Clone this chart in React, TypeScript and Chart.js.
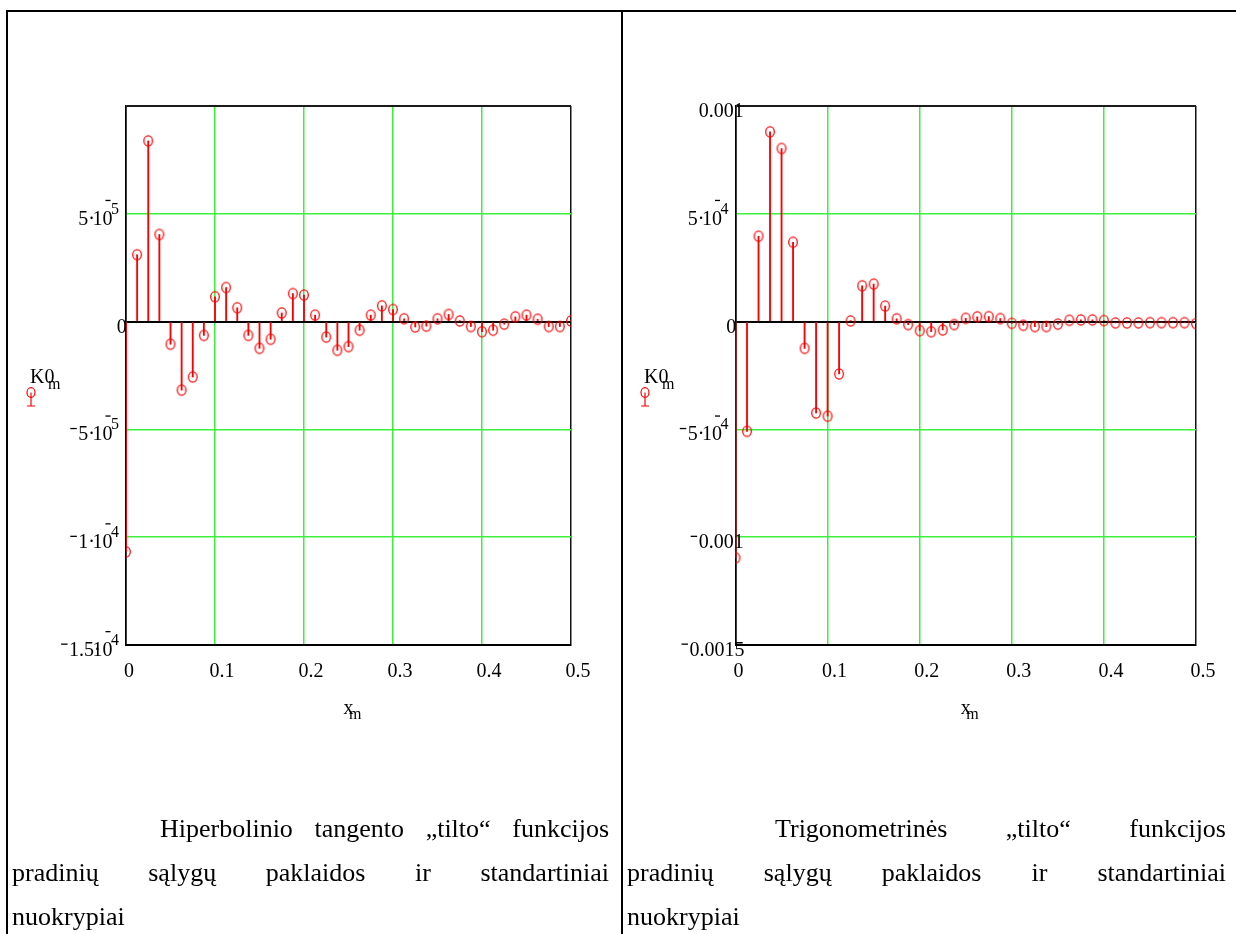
import React, { useEffect, useRef } from "react";
import { Chart, registerables } from "chart.js";

Chart.register(...registerables);

const SERIF = "'Liberation Serif', 'Times New Roman', Times, serif";
const RED = "#ff0000";
const GRID_GREEN = "#3cf03c";

// sample points x_m
const xm = [
  0, 0.0125, 0.025, 0.0375, 0.05, 0.0625, 0.075, 0.0875, 0.1, 0.1125, 0.125,
  0.1375, 0.15, 0.1625, 0.175, 0.1875, 0.2, 0.2125, 0.225, 0.2375, 0.25,
  0.2625, 0.275, 0.2875, 0.3, 0.3125, 0.325, 0.3375, 0.35, 0.3625, 0.375,
  0.3875, 0.4, 0.4125, 0.425, 0.4375, 0.45, 0.4625, 0.475, 0.4875, 0.5,
];

// K0_m, hyperbolic tangent bridge
const tanhK0 = [
  -1.068e-4, 3.1e-5, 8.38e-5, 4.04e-5, -1.05e-5, -3.18e-5, -2.57e-5, -6.4e-6,
  1.15e-5, 1.58e-5, 6.4e-6, -6.4e-6, -1.24e-5, -8.2e-6, 4.0e-6, 1.3e-5,
  1.23e-5, 3.0e-6, -7.2e-6, -1.33e-5, -1.16e-5, -4.0e-6, 3.0e-6, 7.3e-6,
  5.6e-6, 1.3e-6, -2.5e-6, -2.1e-6, 1.3e-6, 3.3e-6, 3e-7, -2.3e-6, -4.7e-6,
  -4.0e-6, -1.2e-6, 2.2e-6, 3.0e-6, 1.1e-6, -2.3e-6, -2.3e-6, 3e-7,
];

// K0_m, trigonometric bridge
const trigK0 = [
  -1.096e-3, -5.09e-4, 3.96e-4, 8.8e-4, 8.03e-4, 3.68e-4, -1.24e-4, -4.24e-4,
  -4.39e-4, -2.43e-4, 3e-6, 1.66e-4, 1.74e-4, 7.2e-5, 1.3e-5, -1.4e-5, -4.2e-5,
  -4.7e-5, -3.9e-5, -1.4e-5, 1.5e-5, 2.2e-5, 2.3e-5, 1.4e-5, -8e-6, -1.7e-5,
  -2.3e-5, -2.3e-5, -1.2e-5, 6e-6, 8e-6, 8e-6, 5e-6, -6e-6, -6e-6, -6e-6,
  -5e-6, -5e-6, -5e-6, -5e-6, -9e-6,
];

const xGrid = [0, 0.1, 0.2, 0.3, 0.4, 0.5];
const xTickLabels = ["0", "0.1", "0.2", "0.3", "0.4", "0.5"];

const tanhYGrid = [-1.5e-4, -1e-4, -5e-5, 0, 5e-5, 1e-4];
const tanhYTicks = [5e-5, 0, -5e-5, -1e-4, -1.5e-4];
const tanhYLabels = ["5·10^-5", "0", "-5·10^-5", "-1·10^-4", "-1.5·10^-4"];

const trigYGrid = [-0.0015, -0.001, -5e-4, 0, 5e-4, 0.001];
const trigYTicks = [0.001, 5e-4, 0, -5e-4, -0.001, -0.0015];
const trigYLabels = ["0.001", "5·10^-4", "0", "-5·10^-4", "-0.001", "-0.0015"];

const tanhCaption = [
  "Hiperbolinio tangento „tilto“ funkcijos",
  "pradinių sąlygų paklaidos ir standartiniai",
  "nuokrypiai",
];
const trigCaption = [
  "Trigonometrinės „tilto“ funkcijos",
  "pradinių sąlygų paklaidos ir standartiniai",
  "nuokrypiai",
];

// Mathcad-like width estimate used for placing axis numbers
function estWidth(text: string): number {
  let w = 0;
  for (const ch of text) {
    if (ch >= "0" && ch <= "9") w += 9.2;
    else if (ch === "-") w += 8;
    else if (ch === "·") w += 5;
  }
  return w;
}

function drawPlain(ctx: CanvasRenderingContext2D, text: string, x: number, baseline: number) {
  let cx = x;
  for (const ch of text) {
    if (ch === "-") {
      ctx.fillRect(cx, baseline - 12.5, 6.5, 1.3);
      cx += 8;
    } else {
      ctx.fillText(ch, cx, baseline);
      cx += ctx.measureText(ch).width;
    }
  }
}

function drawYLabel(ctx: CanvasRenderingContext2D, label: string, axisX: number, baseline: number) {
  ctx.font = `20px ${SERIF}`;
  const caret = label.indexOf("^");
  if (caret < 0) {
    drawPlain(ctx, label, axisX - estWidth(label), baseline);
    return;
  }
  const exp = label.slice(caret + 1);
  const base = label.slice(0, caret);
  const mant = base.slice(0, base.length - 2);
  ctx.font = `16px ${SERIF}`;
  const digits = exp.replace("-", "");
  const supW = ctx.measureText(digits).width;
  const supX = axisX - 7 - supW;
  ctx.fillText(digits, supX, baseline - 11);
  if (exp.startsWith("-")) ctx.fillRect(supX - 5.5, baseline - 25, 5, 1.3);
  ctx.font = `20px ${SERIF}`;
  const tenX = supX + 1.5 - ctx.measureText("10").width;
  ctx.fillText("10", tenX, baseline);
  drawPlain(ctx, mant, tenX - estWidth(mant), baseline);
}

const mathcadText = {
  id: "mathcadText",
  afterDraw(chart: any, _args: any, opts: any) {
    const { ctx, chartArea } = chart;
    const xs = chart.scales.x;
    const ys = chart.scales.y;
    ctx.save();
    ctx.fillStyle = "#000";
    ctx.textAlign = "left";
    ctx.textBaseline = "alphabetic";

    opts.yTicks.forEach((v: number, i: number) => {
      drawYLabel(ctx, opts.yLabels[i], chartArea.left, ys.getPixelForValue(v) + 11);
    });

    ctx.font = `20px ${SERIF}`;
    xGrid.forEach((v, i) => {
      const label = xTickLabels[i];
      const left = xs.getPixelForValue(v) - (2 + 1.75 * (label.length - 1));
      ctx.fillText(label, left, chartArea.bottom + 32);
    });

    // x axis title
    const cx = (chartArea.left + chartArea.right) / 2;
    ctx.font = `20px ${SERIF}`;
    ctx.fillText("x", cx - 5, chartArea.bottom + 69);
    ctx.font = `16px ${SERIF}`;
    ctx.fillText("m", cx + 0.5, chartArea.bottom + 74);

    // y axis title with trace symbol
    const lx = opts.panelLeft + 23;
    const ty = chartArea.top + 277;
    ctx.font = `20px ${SERIF}`;
    ctx.fillText("K0", lx, ty);
    ctx.font = `16px ${SERIF}`;
    ctx.fillText("m", lx + 18, ty + 6);

    const mx = lx + 1;
    const my = ty + 9.5;
    ctx.strokeStyle = RED;
    ctx.lineWidth = 1.2;
    ctx.beginPath();
    ctx.ellipse(mx, my, 4, 4.8, 0, 0, Math.PI * 2);
    ctx.stroke();
    ctx.beginPath();
    ctx.moveTo(mx, my);
    ctx.lineTo(mx, my + 13.5);
    ctx.moveTo(mx - 4, my + 13.5);
    ctx.lineTo(mx + 4, my + 13.5);
    ctx.stroke();
    ctx.restore();
  },
};

function makeMarker(): HTMLCanvasElement {
  const c = document.createElement("canvas");
  c.width = 12;
  c.height = 14;
  const g = c.getContext("2d")!;
  g.strokeStyle = RED;
  g.lineWidth = 1.25;
  g.beginPath();
  g.ellipse(6, 7, 4.3, 5.1, 0, 0, Math.PI * 2);
  g.stroke();
  return c;
}

type PanelProps = {
  values: number[];
  yGrid: number[];
  yTicks: number[];
  yLabels: string[];
  canvasLeft: number;
  canvasWidth: number;
  padding: { left: number; right: number; top: number; bottom: number };
  panelLeft: number;
};

function StemPanel(props: PanelProps) {
  const ref = useRef<HTMLCanvasElement | null>(null);

  useEffect(() => {
    if (!ref.current) return;
    const pts = xm.map((x, i) => ({ x, y: props.values[i] }));
    const yMin = props.yGrid[0];
    const yMax = props.yGrid[props.yGrid.length - 1];
    const marker = makeMarker();

    const chart = new Chart(ref.current, {
      type: "scatter",
      data: {
        datasets: [
          {
            type: "bar",
            data: pts,
            backgroundColor: RED,
            borderWidth: 0,
            barThickness: 1.2,
            grouped: false,
            clip: 0,
            order: 2,
          } as any,
          {
            type: "scatter",
            data: pts,
            pointStyle: marker,
            pointRadius: 5,
            showLine: false,
            clip: 0,
            order: 1,
          } as any,
        ],
      },
      options: {
        animation: false,
        responsive: false,
        devicePixelRatio: 1,
        events: [],
        layout: { padding: props.padding },
        plugins: {
          legend: { display: false },
          tooltip: { enabled: false },
          mathcadText: {
            yTicks: props.yTicks,
            yLabels: props.yLabels,
            panelLeft: props.panelLeft,
          },
        } as any,
        scales: {
          x: {
            type: "linear",
            min: 0,
            max: 0.5,
            offset: false,
            afterBuildTicks: (s: any) => {
              s.ticks = xGrid.map((v) => ({ value: v }));
            },
            ticks: { display: false },
            grid: {
              offset: false,
              drawTicks: false,
              color: (c: any) => {
                const v = c.tick ? c.tick.value : NaN;
                if (v === 0) return "#000";
                if (v === 0.5) return "#111";
                return GRID_GREEN;
              },
              lineWidth: 1.5,
            },
            border: { display: true, color: "#000", width: 2 },
          },
          y: {
            type: "linear",
            min: yMin,
            max: yMax,
            afterBuildTicks: (s: any) => {
              s.ticks = props.yGrid.map((v) => ({ value: v }));
            },
            ticks: { display: false },
            grid: {
              drawTicks: false,
              color: (c: any) => {
                const v = c.tick ? c.tick.value : NaN;
                if (v === 0) return "#000";
                if (v === yMax || v === yMin) return "#1a1a1a";
                return GRID_GREEN;
              },
              lineWidth: (c: any) => {
                const v = c.tick ? c.tick.value : NaN;
                if (v === 0 || v === yMax) return 2;
                return 1.5;
              },
            },
            border: { display: true, color: "#000", width: 1.5 },
          },
        },
      },
      plugins: [mathcadText as any],
    });
    return () => chart.destroy();
  }, []);

  return (
    <canvas
      ref={ref}
      width={props.canvasWidth}
      height={934}
      style={{ position: "absolute", left: props.canvasLeft, top: 0, width: props.canvasWidth, height: 934 }}
    />
  );
}

function Caption({ lines, left, width }: { lines: string[]; left: number; width: number }) {
  const baselines = [838, 882, 926];
  return (
    <>
      {lines.map((line, i) => (
        <div
          key={i}
          style={{
            position: "absolute",
            left,
            top: baselines[i] - 24,
            width,
            boxSizing: "border-box",
            paddingLeft: i === 0 ? 148 : 0,
            fontFamily: SERIF,
            fontSize: 26,
            lineHeight: "30px",
            color: "#000",
            textAlign: "justify",
            textAlignLast: i < lines.length - 1 ? "justify" : "left",
          } as React.CSSProperties}
        >
          {line}
        </div>
      ))}
    </>
  );
}

export default function App() {
  return (
    <div
      style={{
        position: "absolute",
        left: 0,
        top: 0,
        width: 1236,
        height: 934,
        background: "#fff",
        overflow: "hidden",
      }}
    >
      <div style={{ position: "absolute", left: 6, top: 10, width: 1230, height: 2, background: "#000" }} />
      <div style={{ position: "absolute", left: 6, top: 10, width: 2, height: 924, background: "#000" }} />
      <div style={{ position: "absolute", left: 621, top: 10, width: 2, height: 924, background: "#000" }} />

      <StemPanel
        values={tanhK0}
        yGrid={tanhYGrid}
        yTicks={tanhYTicks}
        yLabels={tanhYLabels}
        canvasLeft={0}
        canvasWidth={620}
        padding={{ left: 126, right: 49, top: 106, bottom: 289 }}
        panelLeft={7}
      />
      <StemPanel
        values={trigK0}
        yGrid={trigYGrid}
        yTicks={trigYTicks}
        yLabels={trigYLabels}
        canvasLeft={620}
        canvasWidth={616}
        padding={{ left: 115.5, right: 40, top: 106, bottom: 289 }}
        panelLeft={1}
      />

      <Caption lines={tanhCaption} left={12} width={597} />
      <Caption lines={trigCaption} left={627} width={599} />
    </div>
  );
}
